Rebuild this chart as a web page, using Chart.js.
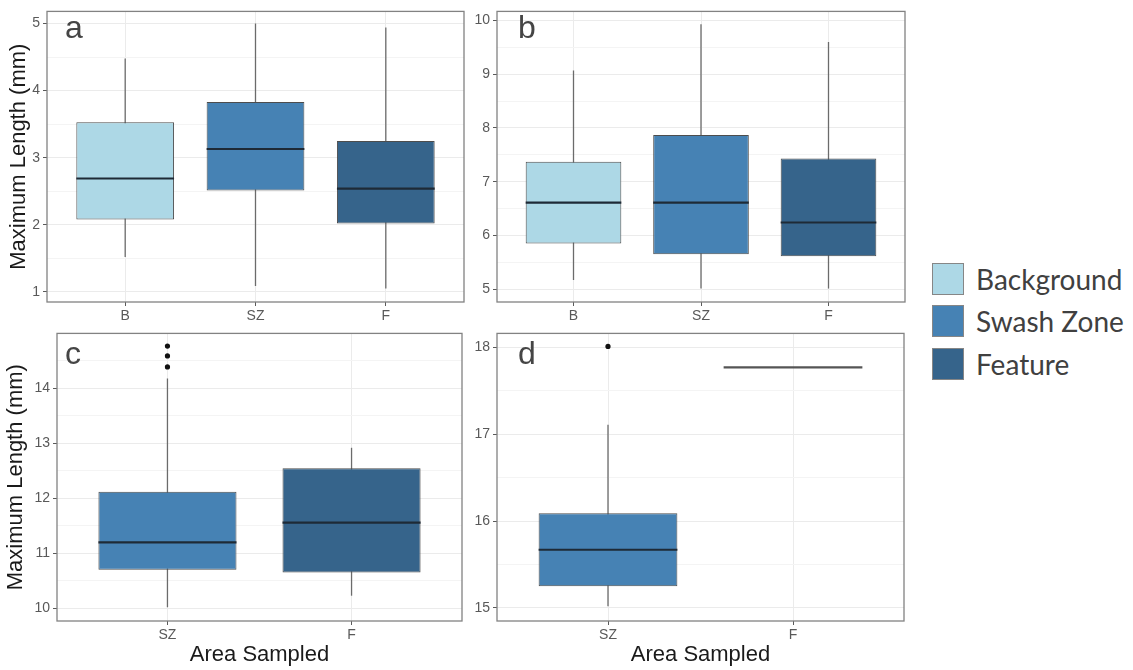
<!DOCTYPE html>
<html lang="en">
<head>
    <meta charset="UTF-8">
    <title>Maximum Length by Area Sampled</title>
    <style>
        body, html {
            margin: 0;
            background: white;
            font-family: "Liberation Sans", Arial, sans-serif;
        }

        .wrap {
            position: relative;
            width: 1133px;
            height: 670px;
            overflow: hidden;
        }

        canvas {
            position: absolute;
        }

        /* legend on the right */
        .legend-item {
            position: absolute;
            left: 932px;
            height: 32px;
            display: flex;
            align-items: center;
        }

        .legend-item .swatch {
            width: 30px;
            height: 30px;
            border: 1px solid #868686;
        }

        .legend-item span {
            margin-left: 12px;
            font-family: Lato, "Open Sans", sans-serif;
            font-size: 28px;
            color: #404040;
            white-space: nowrap;
        }
    </style>
    <script src="https://cdn.jsdelivr.net/npm/chart.js"></script>
</head>
<body>
<div class="wrap">
    <canvas id="panelA" width="466" height="322" style="left:0; top:0;"></canvas>
    <canvas id="panelB" width="442" height="322" style="left:466px; top:0;"></canvas>
    <canvas id="panelC" width="466" height="348" style="left:0; top:322px;"></canvas>
    <canvas id="panelD" width="442" height="348" style="left:466px; top:322px;"></canvas>

    <div class="legend-item" style="top:263px;"><div class="swatch" style="background:#add8e6"></div><span>Background</span></div>
    <div class="legend-item" style="top:305px;"><div class="swatch" style="background:#4682b4"></div><span>Swash Zone</span></div>
    <div class="legend-item" style="top:348px;"><div class="swatch" style="background:#36648b"></div><span>Feature</span></div>
</div>

<script>
    // categories per panel
    const catsA = ['B', 'SZ', 'F'];
    const catsB = ['B', 'SZ', 'F'];
    const catsC = ['SZ', 'F'];
    const catsD = ['SZ', 'F'];

    // box stats per category: [lower whisker, q1, median, q3, upper whisker]
    const statsA = [
        [1.52, 2.08, 2.69, 3.53, 4.48],
        [1.09, 2.51, 3.13, 3.83, 5.00],
        [1.05, 2.02, 2.54, 3.25, 4.94]
    ];
    const statsB = [
        [5.17, 5.85, 6.61, 7.37, 9.07],
        [5.01, 5.65, 6.61, 7.87, 9.93],
        [5.01, 5.61, 6.24, 7.43, 9.60]
    ];
    const statsC = [
        [10.02, 10.70, 11.20, 12.12, 14.18],
        [10.23, 10.65, 11.56, 12.55, 12.92]
    ];
    const statsD = [
        [15.02, 15.25, 15.67, 16.09, 17.11],
        [17.77, 17.77, 17.77, 17.77, 17.77]
    ];

    // outlier points per category
    const outliersA = [[], [], []];
    const outliersB = [[], [], []];
    const outliersC = [[14.39, 14.59, 14.77], []];
    const outliersD = [[18.01], []];

    // y axis ranges and ticks
    const rangeA = [0.85, 5.18];
    const rangeB = [4.76, 10.17];
    const rangeC = [9.77, 15.0];
    const rangeD = [14.85, 18.16];
    const ticksA = [1, 2, 3, 4, 5];
    const ticksB = [5, 6, 7, 8, 9, 10];
    const ticksC = [10, 11, 12, 13, 14];
    const ticksD = [15, 16, 17, 18];
    const minorA = [1.5, 2.5, 3.5, 4.5];
    const minorB = [5.5, 6.5, 7.5, 8.5, 9.5];
    const minorC = [10.5, 11.5, 12.5, 13.5, 14.5];
    const minorD = [15.5, 16.5, 17.5];

    const boxColors = { B: '#add8e6', SZ: '#4682b4', F: '#36648b' };

    Chart.defaults.font.family = '"Liberation Sans", Arial, sans-serif';

    function makePanel(id, cats, stats, outliers, range, majors, minors, o) {
        const allTicks = majors.concat(minors).sort((a, b) => a - b);

        const boxPlugin = {
            id: 'boxes',
            beforeDatasetsDraw(chart) {
                // whiskers behind the boxes
                const { ctx, scales: { x, y } } = chart;
                ctx.save();
                ctx.strokeStyle = '#6b6b6b';
                ctx.lineWidth = 1.3;
                stats.forEach((s, i) => {
                    const px = x.getPixelForValue(i + 1);
                    ctx.beginPath();
                    ctx.moveTo(px, y.getPixelForValue(s[0]));
                    ctx.lineTo(px, y.getPixelForValue(s[4]));
                    ctx.stroke();
                });
                ctx.restore();
            },
            afterDatasetsDraw(chart) {
                // median lines
                const { ctx, scales: { y } } = chart;
                const meta = chart.getDatasetMeta(0);
                ctx.save();
                ctx.lineWidth = 2.2;
                stats.forEach((s, i) => {
                    const bar = meta.data[i];
                    const py = y.getPixelForValue(s[2]);
                    ctx.strokeStyle = s[1] === s[3] ? '#555' : '#1e2a36';
                    ctx.beginPath();
                    ctx.moveTo(bar.x - bar.width / 2, py);
                    ctx.lineTo(bar.x + bar.width / 2, py);
                    ctx.stroke();
                });
                ctx.restore();
            },
            afterDraw(chart) {
                const { ctx, chartArea: a } = chart;
                ctx.save();
                // panel border
                ctx.strokeStyle = '#828282';
                ctx.lineWidth = 1.3;
                ctx.strokeRect(a.left, a.top, a.right - a.left, a.bottom - a.top);
                // panel letter
                ctx.fillStyle = '#454545';
                ctx.font = '32px "Liberation Sans", Arial, sans-serif';
                ctx.textBaseline = 'alphabetic';
                ctx.fillText(o.letter, a.left + o.letterDx, a.top + o.letterDy);
                ctx.restore();
            }
        };

        new Chart(document.getElementById(id), {
            type: 'bar',
            data: {
                datasets: [{
                    data: stats.map((s, i) => ({ x: i + 1, y: [s[1], s[3]] })),
                    backgroundColor: cats.map(c => boxColors[c]),
                    borderColor: '#4d4d4d',
                    borderWidth: 1,
                    borderSkipped: false,
                    barPercentage: 0.75,
                    categoryPercentage: 1,
                    order: 2
                }, {
                    type: 'scatter',
                    data: outliers.flatMap((arr, i) => arr.map(v => ({ x: i + 1, y: v }))),
                    backgroundColor: '#111',
                    borderWidth: 0,
                    pointRadius: 2.6,
                    order: 1
                }]
            },
            options: {
                responsive: false,
                animation: false,
                layout: { padding: { top: o.padTop, right: o.padRight, left: 0, bottom: 0 } },
                plugins: { legend: { display: false }, tooltip: { enabled: false } },
                scales: {
                    x: {
                        type: 'linear',
                        offset: false,
                        min: 0.4,
                        max: cats.length + 0.6,
                        afterBuildTicks: s => { s.ticks = cats.map((c, i) => ({ value: i + 1 })); },
                        afterFit: s => { s.height = o.xHeight; },
                        ticks: {
                            callback: v => cats[Math.round(v) - 1],
                            color: '#595959',
                            font: { size: 14 },
                            padding: 2,
                            maxRotation: 0
                        },
                        grid: { offset: false, color: '#ebebeb', tickColor: '#5a5a5a', tickLength: 4, lineWidth: 1 },
                        border: { display: false },
                        title: {
                            display: o.xTitle,
                            text: 'Area Sampled',
                            color: '#1a1a1a',
                            font: { size: 22 },
                            padding: { top: 0, bottom: 2 }
                        }
                    },
                    y: {
                        min: range[0],
                        max: range[1],
                        afterBuildTicks: s => { s.ticks = allTicks.map(v => ({ value: v })); },
                        afterFit: s => { s.width = o.yWidth; },
                        ticks: {
                            callback: v => majors.includes(v) ? String(v) : '',
                            color: '#595959',
                            font: { size: 14 },
                            padding: 3
                        },
                        grid: {
                            color: c => majors.includes(c.tick.value) ? '#ebebeb' : '#f4f4f4',
                            tickColor: c => majors.includes(c.tick.value) ? '#5a5a5a' : 'rgba(0,0,0,0)',
                            tickLength: 4,
                            lineWidth: 1
                        },
                        border: { display: false },
                        title: {
                            display: o.yTitle,
                            text: 'Maximum Length (mm)',
                            color: '#1a1a1a',
                            font: { size: 22 },
                            padding: { top: o.yTitlePad, bottom: 0 }
                        }
                    }
                }
            },
            plugins: [boxPlugin]
        });
    }

    makePanel('panelA', catsA, statsA, outliersA, rangeA, ticksA, minorA,
        { letter: 'a', letterDx: 18, letterDy: 27, padTop: 10, padRight: 2, xHeight: 20, yWidth: 47, xTitle: false, yTitle: true, yTitlePad: 6 });
    makePanel('panelB', catsB, statsB, outliersB, rangeB, ticksB, minorB,
        { letter: 'b', letterDx: 21, letterDy: 27, padTop: 10, padRight: 3, xHeight: 20, yWidth: 31, xTitle: false, yTitle: false, yTitlePad: 0 });
    makePanel('panelC', catsC, statsC, outliersC, rangeC, ticksC, minorC,
        { letter: 'c', letterDx: 8, letterDy: 31, padTop: 7, padRight: 2, xHeight: 49, yWidth: 57, xTitle: true, yTitle: true, yTitlePad: 3 });
    makePanel('panelD', catsD, statsD, outliersD, rangeD, ticksD, minorD,
        { letter: 'd', letterDx: 21, letterDy: 31, padTop: 7, padRight: 3, xHeight: 49, yWidth: 31, xTitle: true, yTitle: false, yTitlePad: 0 });
</script>
</body>
</html>
